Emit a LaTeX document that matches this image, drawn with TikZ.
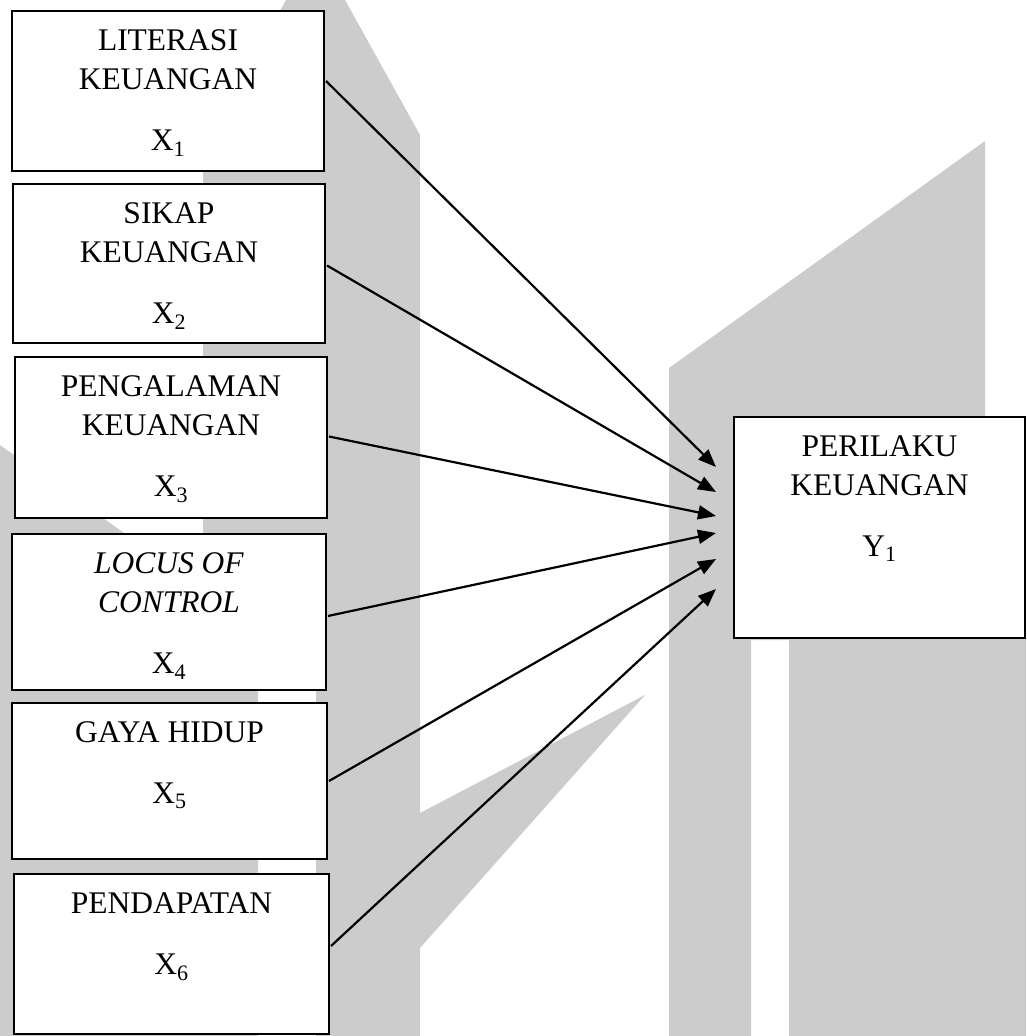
\documentclass[tikz,border=0pt]{standalone}
\usepackage{fontspec}
\setmainfont{Liberation Serif}
\usetikzlibrary{arrows.meta,positioning}
\definecolor{wm}{RGB}{204,204,204}
\newcommand{\fillwm}{\fill[wm]}
\newcommand{\varbox}[6]{
  \node[box,minimum width=#4pt,minimum height=#5pt] (#1) at (#2,#3) {};
  \node[boxtext,below=19pt of #1.north] (#1-t) {#6};
}

\begin{document}
\begin{tikzpicture}[x=1pt,y=-1pt,
  box/.style={draw,fill=white,line width=2pt,anchor=north west,inner sep=0pt},
  boxtext/.style={align=center,inner sep=0pt,font=\fontsize{31.5}{39}\selectfont},
  conn/.style={line width=2.2pt,-{Triangle[length=18pt,width=14pt]}}]
\useasboundingbox (0,0) rectangle (1026,1036);
\fillwm (286,0)--(345,0)--(420,135)--(420,1036)--(316,1036)--(316,640)--(203,640)--(203,150)--cycle;
\fillwm (0,445)--(258,628)--(258,1036)--(0,1036)--cycle;
\fillwm (420,813)--(645,695)--(420,948)--cycle;
\fillwm (669,368)--(985,141)--(985,640)--(751,640)--(751,1036)--(669,1036)--cycle;
\fillwm (789,630) rectangle (1026,1036);
\varbox{lit}{11}{10}{312}{160}{LITERASI\\KEUANGAN\\[22pt]X\textsubscript{1}}
\varbox{sik}{12}{183}{312}{159}{SIKAP\\KEUANGAN\\[22pt]X\textsubscript{2}}
\varbox{pen}{14}{356}{312}{161}{PENGALAMAN\\KEUANGAN\\[22pt]X\textsubscript{3}}
\varbox{loc}{11}{533}{314}{156}{\textit{LOCUS OF}\\\textit{CONTROL}\\[22pt]X\textsubscript{4}}
\varbox{gay}{11}{702}{315}{156}{GAYA HIDUP\\[22pt]X\textsubscript{5}}
\varbox{pdp}{13}{873}{315}{160}{PENDAPATAN\\[22pt]X\textsubscript{6}}
\varbox{per}{733}{416}{291}{221}{PERILAKU\\KEUANGAN\\[22pt]Y\textsubscript{1}}
\coordinate (in1) at (716,467);
\coordinate (in2) at (716,492);
\coordinate (in3) at (716,516);
\coordinate (in4) at (716,533);
\coordinate (in5) at (716,559);
\coordinate (in6) at (716,589);
\foreach \src/\sh/\dst in {lit/10/in1,sik/-2/in2,pen/1/in3,loc/-4/in4,gay/0/in5,pdp/8/in6}
  \draw[conn] ([xshift=1pt,yshift=\sh pt]\src.east) -- (\dst);
\end{tikzpicture}
\end{document}
